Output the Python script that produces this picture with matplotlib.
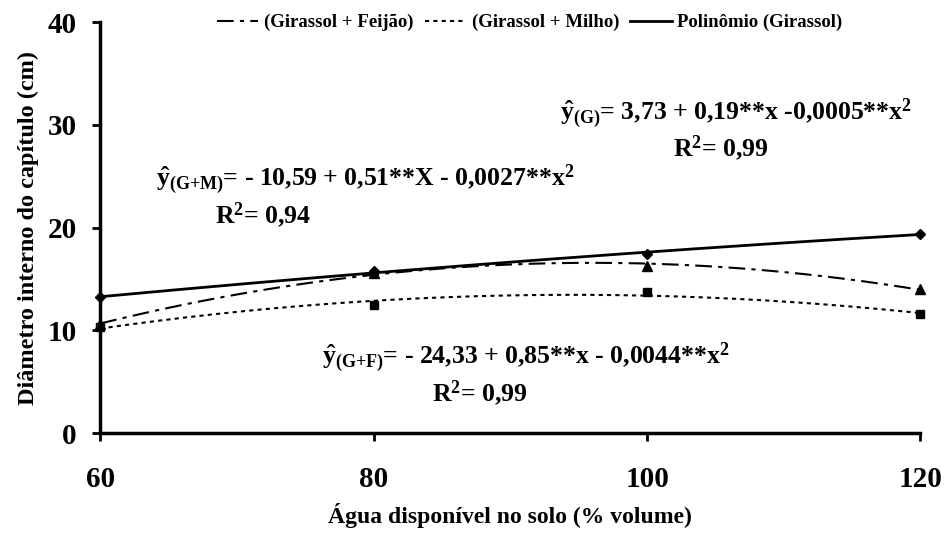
import numpy as np
import matplotlib
matplotlib.use("Agg")
import matplotlib.pyplot as plt

# data
agua = [60, 80, 100, 120]
girassol = [13.2, 15.8, 17.4, 19.4]
gir_feijao = [10.6, 15.6, 16.3, 14.0]
gir_milho = [10.3, 12.5, 13.75, 11.55]

plt.rcParams['font.family'] = 'Liberation Serif'
plt.rcParams['font.weight'] = 'bold'
plt.rcParams['mathtext.fontset'] = 'custom'
plt.rcParams['mathtext.rm'] = 'Liberation Serif:bold'
plt.rcParams['mathtext.bf'] = 'Liberation Serif:bold'
plt.rcParams['mathtext.it'] = 'Liberation Serif:bold'

fig = plt.figure(figsize=(9.46, 5.38), dpi=100)
ax = fig.add_axes([0.106, 0.195, 0.867, 0.764])

xs = np.linspace(60, 120, 200)
def trend(y):
    c = np.polyfit(agua, y, 2)
    return np.polyval(c, xs)

ax.plot(xs, trend(gir_feijao), color='black', lw=1.5, dashes=(8, 3, 2, 3),
        label='(Girassol + Feijão)')
ax.plot(xs, trend(gir_milho), color='black', lw=1.5, dashes=(2, 2),
        label='(Girassol + Milho)')
ax.plot(xs, trend(girassol), color='black', lw=2, label='Polinômio (Girassol)')

ax.plot(agua, girassol, 'D', color='black', ms=5, clip_on=False)
ax.plot(agua, gir_feijao, '^', color='black', ms=7, clip_on=False)
ax.plot(agua, gir_milho, 's', color='black', ms=6, clip_on=False)

ax.set_xlim(60, 120)
ax.set_ylim(0, 40)
ax.set_xticks([60, 80, 100, 120])
ax.set_yticks([0, 10, 20, 30, 40])
for s in ['top', 'right']:
    ax.spines[s].set_visible(False)
for s in ['left', 'bottom']:
    ax.spines[s].set_linewidth(2.5)
ax.tick_params(direction='out', length=6, width=2, labelsize=21)
ax.tick_params(axis='x', pad=18)
ax.tick_params(axis='y', pad=11)
ax.set_xlabel('Água disponível no solo (% volume)', fontsize=17, fontweight='bold', labelpad=7)
ax.set_ylabel('Diâmetro interno do capítulo (cm)', fontsize=17.5, fontweight='bold', labelpad=6)

fs = 18.5
ax.text(79.4, 24.6, r'$\hat{y}_{(G{+}M)}$= - 10,59 + 0,51**X - 0,0027**x$^{2}$',
        ha='center', va='center', fontsize=fs)
ax.text(71.9, 21.2, r'R$^{2}$= 0,94', ha='center', va='center', fontsize=fs)
ax.text(106.5, 31.1, r'$\hat{y}_{(G)}$= 3,73 + 0,19**x -0,0005**x$^{2}$',
        ha='center', va='center', fontsize=fs)
ax.text(105.4, 27.7, r'R$^{2}$= 0,99', ha='center', va='center', fontsize=fs)
ax.text(91.1, 7.3, r'$\hat{y}_{(G{+}F)}$= - 24,33 + 0,85**x - 0,0044**x$^{2}$',
        ha='center', va='center', fontsize=fs)
ax.text(87.8, 3.9, r'R$^{2}$= 0,99', ha='center', va='center', fontsize=fs)

fig.legend(loc='upper center', bbox_to_anchor=(0.56, 1.005), ncol=3, frameon=False,
           fontsize=13.5, handlelength=2.2, handletextpad=0.3, columnspacing=0.6)

fig.savefig('out.png', dpi=100)
